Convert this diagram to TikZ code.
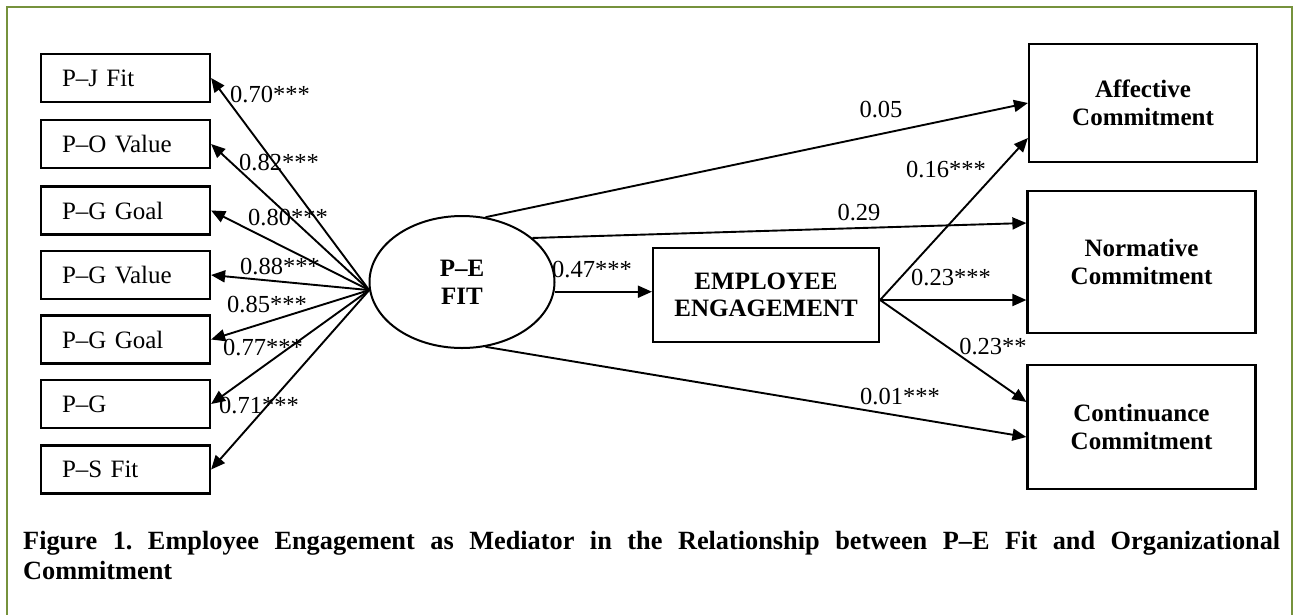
\documentclass[tikz,border=0pt]{standalone}
\usepackage{fontspec}
\setmainfont{Liberation Serif}
\usetikzlibrary{arrows.meta,shapes.geometric,positioning}
\definecolor{framegreen}{HTML}{76923C}
\tikzset{
  fitbox/.style={draw,line width=2.2pt,minimum height=48pt,inner xsep=21pt,text width=127pt,align=left,font=\fontsize{25}{28}\selectfont},
  cmbox/.style={draw,line width=2.2pt,minimum width=228pt,align=center,font=\fontsize{25}{28}\selectfont\bfseries},
  coef/.style={inner sep=0pt,font=\fontsize{24.5}{28}\selectfont},
  arr/.style={line width=1.9pt,-{Triangle[length=14pt,width=12pt]}}
}
\begin{document}
\begin{tikzpicture}[x=1pt,y=-1pt]
\useasboundingbox (0,0) rectangle (1295,614);
\draw[framegreen,line width=2pt](7,640)--(7,7)--(1292,7)--(1292,640);

\node[fitbox](PJ) at (125.5,78) {P--J Fit};
\node[fitbox](PO) at (125.5,144) {P--O Value};
\node[fitbox](PGa) at (125.5,210.5) {P--G Goal};
\node[fitbox](PGv) at (125.5,275) {P--G Value};
\node[fitbox](PGb) at (125.5,339.5) {P--G Goal};
\node[fitbox](PG) at (125.5,404) {P--G};
\node[fitbox](PS) at (125.5,469.5) {P--S Fit};

\node[ellipse,draw,line width=2pt,minimum width=185pt,minimum height=132pt,inner sep=0pt,align=center,font=\fontsize{25}{28}\selectfont\bfseries](PE) at (462,282) {P--E\\FIT};
\node[cmbox,minimum width=226pt,minimum height=94pt,font=\fontsize{25}{27}\selectfont\bfseries](EE) at (766,295) {EMPLOYEE\\ENGAGEMENT};
\node[cmbox,minimum height=118pt](AC) at (1143,103) {Affective\\Commitment};
\node[cmbox,minimum height=142pt](NC) at (1141.5,262) {Normative\\Commitment};
\node[cmbox,minimum height=124pt](CC) at (1141.5,427) {Continuance\\Commitment};

\coordinate (H) at (PE.185);
\coordinate (E) at ([yshift=-5pt]EE.east);
\draw[arr](H)--(PJ.east);\draw[arr](H)--(PO.east);\draw[arr](H)--(PGa.east);
\draw[arr](H)--(PGv.east);\draw[arr](H)--(PGb.east);\draw[arr](H)--(PG.east);
\draw[arr](H)--(PS.east);
\draw[arr](PE.354)--(PE.354-|EE.west);
\draw[arr](PE.70)--(AC.west);
\draw[arr](PE.32)--([yshift=39pt]NC.west);
\draw[arr](PE.290)--([yshift=-10pt]CC.west);
\draw[arr](E)--([yshift=-35pt]AC.west);
\draw[arr](E)--(E-|NC.west);
\draw[arr](E)--([yshift=25pt]CC.west);

\node[coef](w1) at (270,95) {0.70***};
\node[coef](w2) at (279,163) {0.82***};
\node[coef](w3) at (288,218) {0.80***};
\node[coef](w4) at (280,267) {0.88***};
\node[coef](w5) at (267,305) {0.85***};
\node[coef](w6) at (263,348) {0.77***};
\node[coef](w7) at (259,406) {0.71***};
\node[coef](b1) at (592,270) {0.47***};
\node[coef](b2) at (881,110) {0.05};
\node[coef](b3) at (859,213) {0.29};
\node[coef](b4) at (900,397) {0.01***};
\node[coef](b5) at (946,170) {0.16***};
\node[coef](b6) at (951,278) {0.23***};
\node[coef](b7) at (993,347) {0.23**};

\node[anchor=base west,inner sep=0pt,text width=1257pt,align=justify,font=\fontsize{26.3}{30}\selectfont\bfseries\frenchspacing](cap) at (23,549) {Figure 1. Employee Engagement as Mediator in the Relationship between P--E Fit and Organizational\linebreak Commitment};
\end{tikzpicture}
\end{document}
